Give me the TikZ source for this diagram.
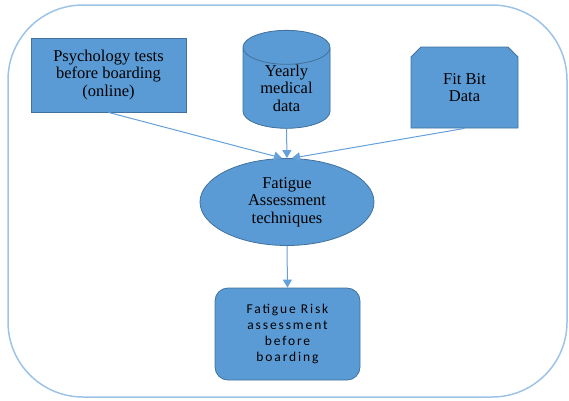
\documentclass[tikz,border=0pt]{standalone}
\usepackage{fontspec}
\usetikzlibrary{shapes.geometric,shapes.misc,arrows.meta}
\setmainfont{Liberation Serif}
\newfontfamily\riskfont[LetterSpace=14]{Carlito}
\definecolor{boxfill}{RGB}{91,155,213}
\definecolor{boxline}{RGB}{65,113,156}
\definecolor{capfill}{RGB}{120,172,222}
\definecolor{frameline}{RGB}{157,195,230}
\definecolor{arrowline}{RGB}{100,160,218}

\begin{document}
\begin{tikzpicture}[x=1pt,y=-1pt,
  block/.style={fill=boxfill,draw=boxline,line width=0.8pt,align=center,inner sep=0pt,
    font=\fontsize{16.5}{17.5}\selectfont},
  flow/.style={draw=arrowline,line width=1pt,-{Triangle[width=9pt,length=8pt]}}]
  \useasboundingbox (0,0) rectangle (569,400);
  \draw[frameline,line width=1.5pt,rounded corners=75pt] (8,5) rectangle (567,397);
  \node[block,rectangle,minimum width=155pt,minimum height=74pt] (psych) at (108.5,75)
    {Psychology tests\\before boarding\\(online)};
  \node[block,cylinder,shape border rotate=90,aspect=0.65,minimum width=87pt,minimum height=93pt,
    cylinder uses custom fill,cylinder body fill=boxfill,cylinder end fill=capfill] (medical) at (286.5,88)
    {Yearly\\medical\\data};
  \node[block,chamfered rectangle,chamfered rectangle corners={north west,north east},
    chamfered rectangle xsep=5pt,chamfered rectangle ysep=5pt,
    minimum width=107pt,minimum height=81pt] (fitbit) at (464.5,87.5)
    {Fit Bit\\Data};
  \node[block,ellipse,minimum width=174pt,minimum height=87pt] (assess) at (287,202)
    {Fatigue\\Assessment\\techniques};
  \node[block,rectangle,rounded corners=13pt,minimum width=145pt,minimum height=92pt,
    font=\riskfont\fontsize{13.5}{16.3}\selectfont] (risk) at (287.5,334)
    {Fatigue Risk\\assessment\\before\\boarding};
  \draw[flow] (psych.south) -- ([xshift=-5pt]assess.north);
  \draw[flow] (medical.south) -- (assess.north);
  \draw[flow] (fitbit.south) -- ([xshift=5pt]assess.north);
  \draw[flow] (assess.south) -- (risk.north);
\end{tikzpicture}
\end{document}
